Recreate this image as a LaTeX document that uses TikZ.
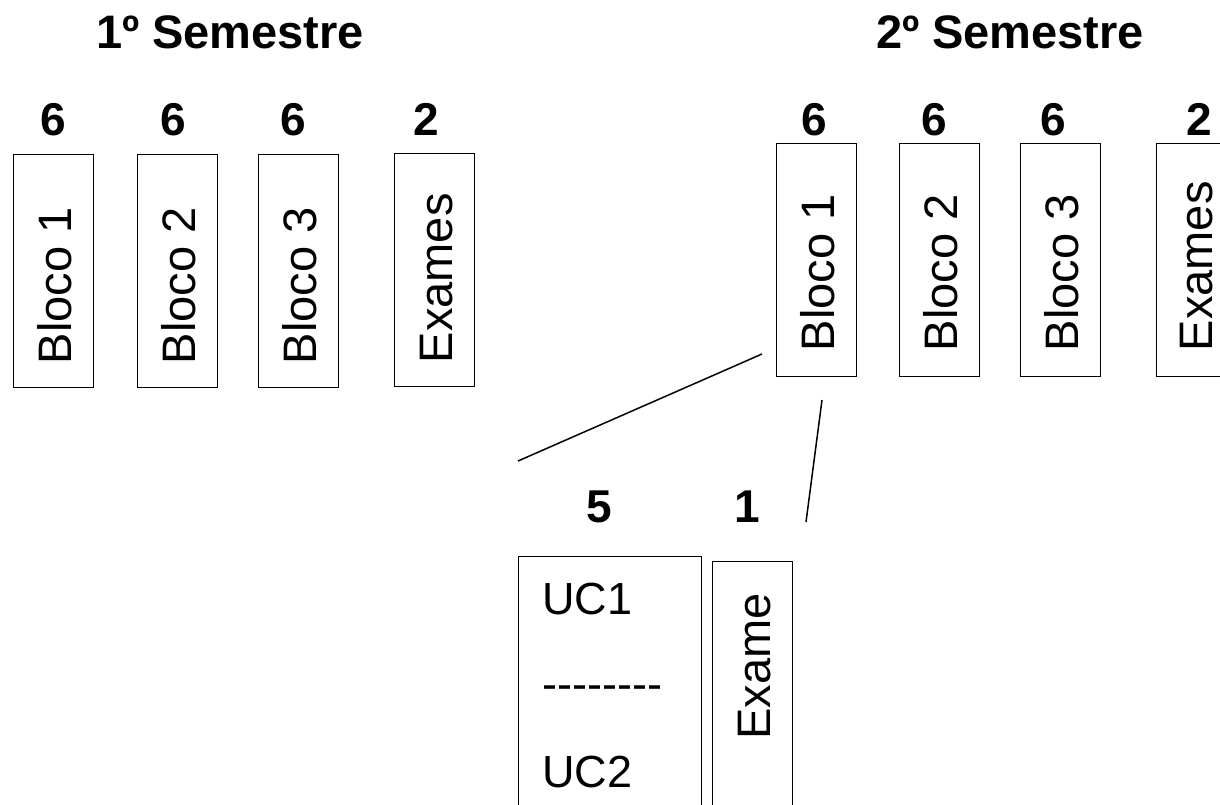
\documentclass[tikz,border=0pt]{standalone}
\usepackage{fontspec}
\setmainfont{Liberation Sans}
\begin{document}
\begin{tikzpicture}[x=1pt,y=-1pt,
  box/.style={draw=black,line width=1.4pt,minimum width=80pt,inner sep=0pt,anchor=north west},
  vtext/.style={rotate=90,anchor=base west,inner sep=0pt,font=\fontsize{47}{47}\selectfont},
  num/.style={anchor=base,inner sep=0pt,font=\fontsize{46}{46}\selectfont\bfseries},
  title/.style={anchor=base,inner sep=0pt,font=\fontsize{47}{47}\selectfont\bfseries},
  htext/.style={anchor=base west,inner sep=0pt,font=\fontsize{45}{45}\selectfont},
  link/.style={line width=1.5pt}]
\useasboundingbox (0,0) rectangle (1220,804);
\clip (0,0) rectangle (1220,804);
% titles
\node[title] (t1) at (230,48) {1º Semestre};
\node[title] (t2) at (1010,48) {2º Semestre};
% first semester
\node[box,minimum height=233pt] (a1) at (13,154) {};
\node[box,minimum height=233pt] (a2) at (137,154) {};
\node[box,minimum height=233pt] (a3) at (258,154) {};
\node[box,minimum height=233pt] (a4) at (394,153) {};
\node[vtext] (a1t) at ([xshift=58pt,yshift=24pt]a1.south west) {Bloco 1};
\node[vtext] (a2t) at ([xshift=58pt,yshift=24pt]a2.south west) {Bloco 2};
\node[vtext] (a3t) at ([xshift=58pt,yshift=24pt]a3.south west) {Bloco 3};
\node[vtext] (a4t) at ([xshift=58pt,yshift=24pt]a4.south west) {Exames};
\node[num] (an1) at (53,135) {6};
\node[num] (an2) at (173,135) {6};
\node[num] (an3) at (293,135) {6};
\node[num] (an4) at (426,135) {2};
% second semester
\node[box,minimum height=233pt] (b1) at (776,143) {};
\node[box,minimum height=233pt] (b2) at (899,143) {};
\node[box,minimum height=233pt] (b3) at (1020,143) {};
\node[box,minimum height=233pt] (b4) at (1156,143) {};
\node[vtext] (b1t) at ([xshift=58pt,yshift=26pt]b1.south west) {Bloco 1};
\node[vtext] (b2t) at ([xshift=58pt,yshift=26pt]b2.south west) {Bloco 2};
\node[vtext] (b3t) at ([xshift=58pt,yshift=26pt]b3.south west) {Bloco 3};
\node[vtext] (b4t) at ([xshift=56pt,yshift=26pt]b4.south west) {Exames};
\node[num] (bn1) at (814,135) {6};
\node[num] (bn2) at (934,135) {6};
\node[num] (bn3) at (1053,135) {6};
\node[num] (bn4) at (1199,135) {2};
% detail
\node[box,minimum width=183pt,minimum height=280pt] (uc) at (518,556) {};
\node[box,minimum height=280pt] (ex) at (712,561) {};
\node[htext] (uc1) at (542,614) {UC1};
\node[htext] (ucd) at (542,699) {-{}-{}-{}-{}-{}-{}-{}-};
\node[htext] (uc2) at (542,787) {UC2};
\node[vtext] (ext) at (770,740) {Exame};
\node[num] (n5) at (599,522) {5};
\node[num] (n1) at (747,522) {1};
% zoom lines
\coordinate (l1a) at (518,461);
\coordinate (l1b) at (762,354);
\coordinate (l2a) at (806,522);
\coordinate (l2b) at (822,400);
\draw[link] (l1a) -- (l1b);
\draw[link] (l2a) -- (l2b);
\end{tikzpicture}
\end{document}
